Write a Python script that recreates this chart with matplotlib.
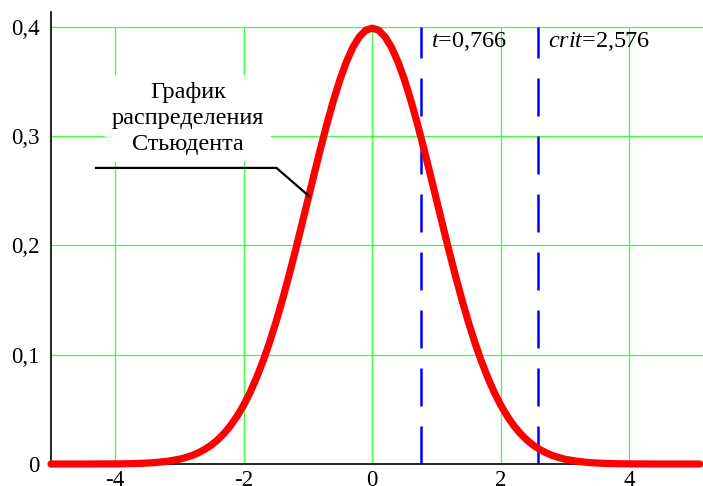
import matplotlib.pyplot as plt

plt.rcParams['font.family'] = ['Liberation Serif', 'DejaVu Serif']
plt.rcParams['mathtext.fontset'] = 'custom'
plt.rcParams['mathtext.rm'] = 'Liberation Serif'
plt.rcParams['mathtext.it'] = 'Liberation Serif:italic'

# Student density
x_vals = [-5.0, -4.5, -4.0, -3.8, -3.6, -3.4, -3.2, -3.0, -2.9, -2.8, -2.7, -2.6,
          -2.5, -2.4, -2.3, -2.2, -2.1, -2.0, -1.9, -1.8, -1.7, -1.6, -1.5, -1.4,
          -1.3, -1.2, -1.1, -1.0, -0.9, -0.8, -0.7, -0.6, -0.5, -0.4, -0.3, -0.2,
          -0.1, 0.0, 0.1, 0.2, 0.3, 0.4, 0.5, 0.6, 0.7, 0.8, 0.9, 1.0, 1.1, 1.2,
          1.3, 1.4, 1.5, 1.6, 1.7, 1.8, 1.9, 2.0, 2.1, 2.2, 2.3, 2.4, 2.5, 2.6,
          2.7, 2.8, 2.9, 3.0, 3.2, 3.4, 3.6, 3.8, 4.0, 4.5, 5.0, 5.1]
y_vals = [0.0, 0.0, 0.0001, 0.0003, 0.0006, 0.0012, 0.0024, 0.0044, 0.0060, 0.0079,
          0.0104, 0.0136, 0.0175, 0.0224, 0.0283, 0.0355, 0.0440, 0.0540, 0.0656,
          0.0790, 0.0940, 0.1109, 0.1295, 0.1497, 0.1714, 0.1942, 0.2179, 0.2420,
          0.2661, 0.2897, 0.3123, 0.3332, 0.3521, 0.3683, 0.3814, 0.3910, 0.3970,
          0.3989, 0.3970, 0.3910, 0.3814, 0.3683, 0.3521, 0.3332, 0.3123, 0.2897,
          0.2661, 0.2420, 0.2179, 0.1942, 0.1714, 0.1497, 0.1295, 0.1109, 0.0940,
          0.0790, 0.0656, 0.0540, 0.0440, 0.0355, 0.0283, 0.0224, 0.0175, 0.0136,
          0.0104, 0.0079, 0.0060, 0.0044, 0.0024, 0.0012, 0.0006, 0.0003, 0.0001,
          0.0, 0.0, 0.0]

t_value = 0.766
crit_value = 2.576

x_ticks = [-4, -2, 0, 2, 4]
x_tick_labels = ['-4', '-2', '0', '2', '4']
y_ticks = [0, 0.1, 0.2, 0.3, 0.4]
y_tick_labels = ['0', '0,1', '0,2', '0,3', '0,4']

label_text = 'График\nраспределения\nСтьюдента'

W, H = 703, 486
fig = plt.figure(figsize=(W / 100, H / 100), dpi=100)
ax = fig.add_axes([51 / W, 22 / H, (W - 51) / W, 452 / H])
ax.set_xlim(-5, 5.15)
ax.set_ylim(0, 0.4137)

grid_col = '#3cff3c'
ax.vlines(x_ticks, 0, 0.4, color=grid_col, lw=0.9, zorder=1)
ax.hlines(y_ticks[1:], -5, 5.15, color=grid_col, lw=0.9, zorder=1)

for xv in (t_value, crit_value):
    ln, = ax.plot([xv, xv], [0, 0.4], color='#0000ff', lw=1.8, zorder=3)
    ln.set_dashes([15.2, 8.0])

ax.plot(x_vals, y_vals, color='#ff0000', lw=5.2, zorder=4, clip_on=False,
        solid_capstyle='round')

ax.text(-2.87, 0.3165, label_text, ha='center', va='center', fontsize=17.5,
        linespacing=1.32, zorder=2,
        bbox=dict(facecolor='white', edgecolor='none', pad=5))
ax.plot([-4.3, -1.49, -0.98], [0.271, 0.271, 0.245], color='black', lw=1.6, zorder=5)

ax.text(0.92, 0.387, '$\\it{t}$=0,766', fontsize=17.5, va='center', ha='left', zorder=5)
ax.text(2.73, 0.387, '$\\it{crit}$=2,576', fontsize=17.5, va='center', ha='left', zorder=5)

ax.set_xticks(x_ticks)
ax.set_xticklabels(x_tick_labels)
ax.set_yticks(y_ticks)
ax.set_yticklabels(y_tick_labels)
ax.tick_params(length=0, labelsize=16.5)
ax.tick_params(axis='y', pad=8)
ax.tick_params(axis='x', pad=4)

for s in ('top', 'right'):
    ax.spines[s].set_visible(False)
for s in ('left', 'bottom'):
    ax.spines[s].set_linewidth(1.2)
    ax.spines[s].set_color('black')

fig.savefig('out.png', dpi=100)
